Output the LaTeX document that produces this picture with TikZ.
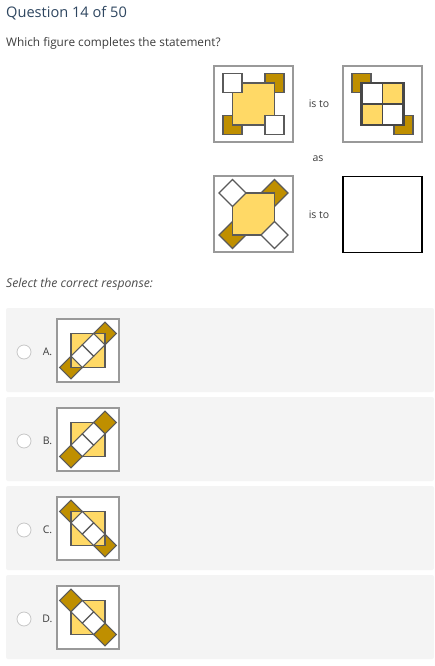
\documentclass[tikz,border=0pt]{standalone}
\usepackage{fontspec}
\setmainfont{Open Sans}
\usetikzlibrary{positioning}
\definecolor{tilegold}{HTML}{FFD966}
\definecolor{tilebrown}{HTML}{BF8F00}
\definecolor{tileedge}{HTML}{5A5A5A}
\definecolor{panelgray}{HTML}{F4F4F4}
\definecolor{headblue}{HTML}{2E4660}
\definecolor{textgray}{HTML}{3C3C3C}

\begin{document}
\begin{tikzpicture}[x=1pt, y=-1pt,
  piece/.style={draw=tileedge, line width=1.3pt, inner sep=0pt, outer sep=0pt},
  bigsq/.style={piece, fill=tilegold, minimum size=42pt},
  corner/.style={piece, minimum size=19pt},
  cell/.style={piece, minimum size=21pt, line width=1.8pt, draw=black!72},
  strip/.style={piece, minimum size=16pt, rotate=45, line width=1.1pt},
  smallsq/.style={piece, fill=tilegold, minimum size=34pt, line width=1.1pt},
  frame/.style={draw=black!40, line width=1.3pt, fill=white, inner sep=0pt, outer sep=0pt},
  label/.style={inner sep=0pt, text=textgray}]

\useasboundingbox [fill=white] (0,0) rectangle (434,666);

% header
\node [label, anchor=base west, text=headblue, font=\fontsize{14.6}{17}\selectfont] (title) at (6,18) {Question 14 of 50};
\node [label, anchor=base west, font=\fontsize{11.8}{14}\selectfont] (prompt) at (6,47) {Which figure completes the statement?};

% first pair
\node [frame, minimum width=79pt, minimum height=76pt] (fig-1) at (253.5,104) {};
\node [corner, fill=tilebrown] (fig-1-tr) at (274.5,83) {};
\node [corner, fill=tilebrown] (fig-1-bl) at (232.5,125) {};
\node [bigsq] (fig-1-mid) at (253.5,104) {};
\node [corner, fill=white] (fig-1-tl) at (232.5,83) {};
\node [corner, fill=white] (fig-1-br) at (274.5,125) {};

\node [label, font=\fontsize{10.5}{12}\selectfont] (isto-1) at (319,104) {is to};

\node [frame, minimum width=79pt, minimum height=76pt] (fig-2) at (382.5,104) {};
\node [corner, fill=tilebrown] (fig-2-tl) at (361.5,83) {};
\node [corner, fill=tilebrown] (fig-2-br) at (403.5,125) {};
\foreach \dx/\dy/\c [count=\k] in {-1/-1/white, 1/-1/tilegold, -1/1/tilegold, 1/1/white}
  \node [cell, fill=\c] (fig-2-cell\k) at (382.5+10.5*\dx,104+10.5*\dy) {};
\draw [black!72, line width=2.4pt] (fig-2-cell1.north west) rectangle (fig-2-cell4.south east);

\node [label, font=\fontsize{10.5}{12}\selectfont] (as) at (318,159) {as};

% second pair
\node [frame, minimum width=79pt, minimum height=76pt] (fig-3) at (253.5,214) {};
\node [corner, fill=tilebrown, rotate=45] (fig-3-tr) at (274.5,193) {};
\node [corner, fill=tilebrown, rotate=45] (fig-3-bl) at (232.5,235) {};
\node [bigsq] (fig-3-mid) at (253.5,214) {};
\node [corner, fill=white, rotate=45] (fig-3-tl) at (232.5,193) {};
\node [corner, fill=white, rotate=45] (fig-3-br) at (274.5,235) {};

\node [label, font=\fontsize{10.5}{12}\selectfont] (isto-2) at (319,215) {is to};

\node [frame, draw=black, minimum width=79pt, minimum height=76pt] (fig-4) at (382.5,214.5) {};

\node [label, anchor=base west, text=black!70, font=\fontsize{12.2}{14}\selectfont\itshape] (select) at (6,287) {Select the correct response:};

% answer panels
\foreach \lab/\dir/\ontop [count=\i from 0] in {A/1/0, B/1/1, C/-1/0, D/-1/1} {
  \pgfmathsetmacro{\ytop}{308+89*\i}
  \pgfmathsetmacro{\yc}{\ytop+42.5}
  \fill [panelgray, rounded corners=2pt] (6,\ytop) rectangle (434,\ytop+84);
  \node [circle, draw=black!22, fill=white, line width=0.8pt, minimum size=14pt, inner sep=0pt] (radio-\lab) at (24,\ytop+44) {};
  \node [label, font=\fontsize{10.5}{12}\selectfont] (lab-\lab) at (47.5,\ytop+44) {\lab.};
  \node [frame, minimum width=62pt, minimum height=63pt] (opt-\lab) at (88,\yc) {};
  \ifnum\ontop=0
    \node [strip, fill=tilebrown] (opt-\lab-a) at (71,\yc+17*\dir) {};
    \node [strip, fill=tilebrown] (opt-\lab-d) at (105,\yc-17*\dir) {};
    \node [smallsq] (opt-\lab-sq) at (88,\yc) {};
  \else
    \node [smallsq] (opt-\lab-sq) at (88,\yc) {};
    \node [strip, fill=tilebrown] (opt-\lab-a) at (71,\yc+17*\dir) {};
    \node [strip, fill=tilebrown] (opt-\lab-d) at (105,\yc-17*\dir) {};
  \fi
  \node [strip, fill=white] (opt-\lab-b) at (71+34/3,\yc+17*\dir/3) {};
  \node [strip, fill=white] (opt-\lab-c) at (71+68/3,\yc-17*\dir/3) {};
}

\end{tikzpicture}
\end{document}
